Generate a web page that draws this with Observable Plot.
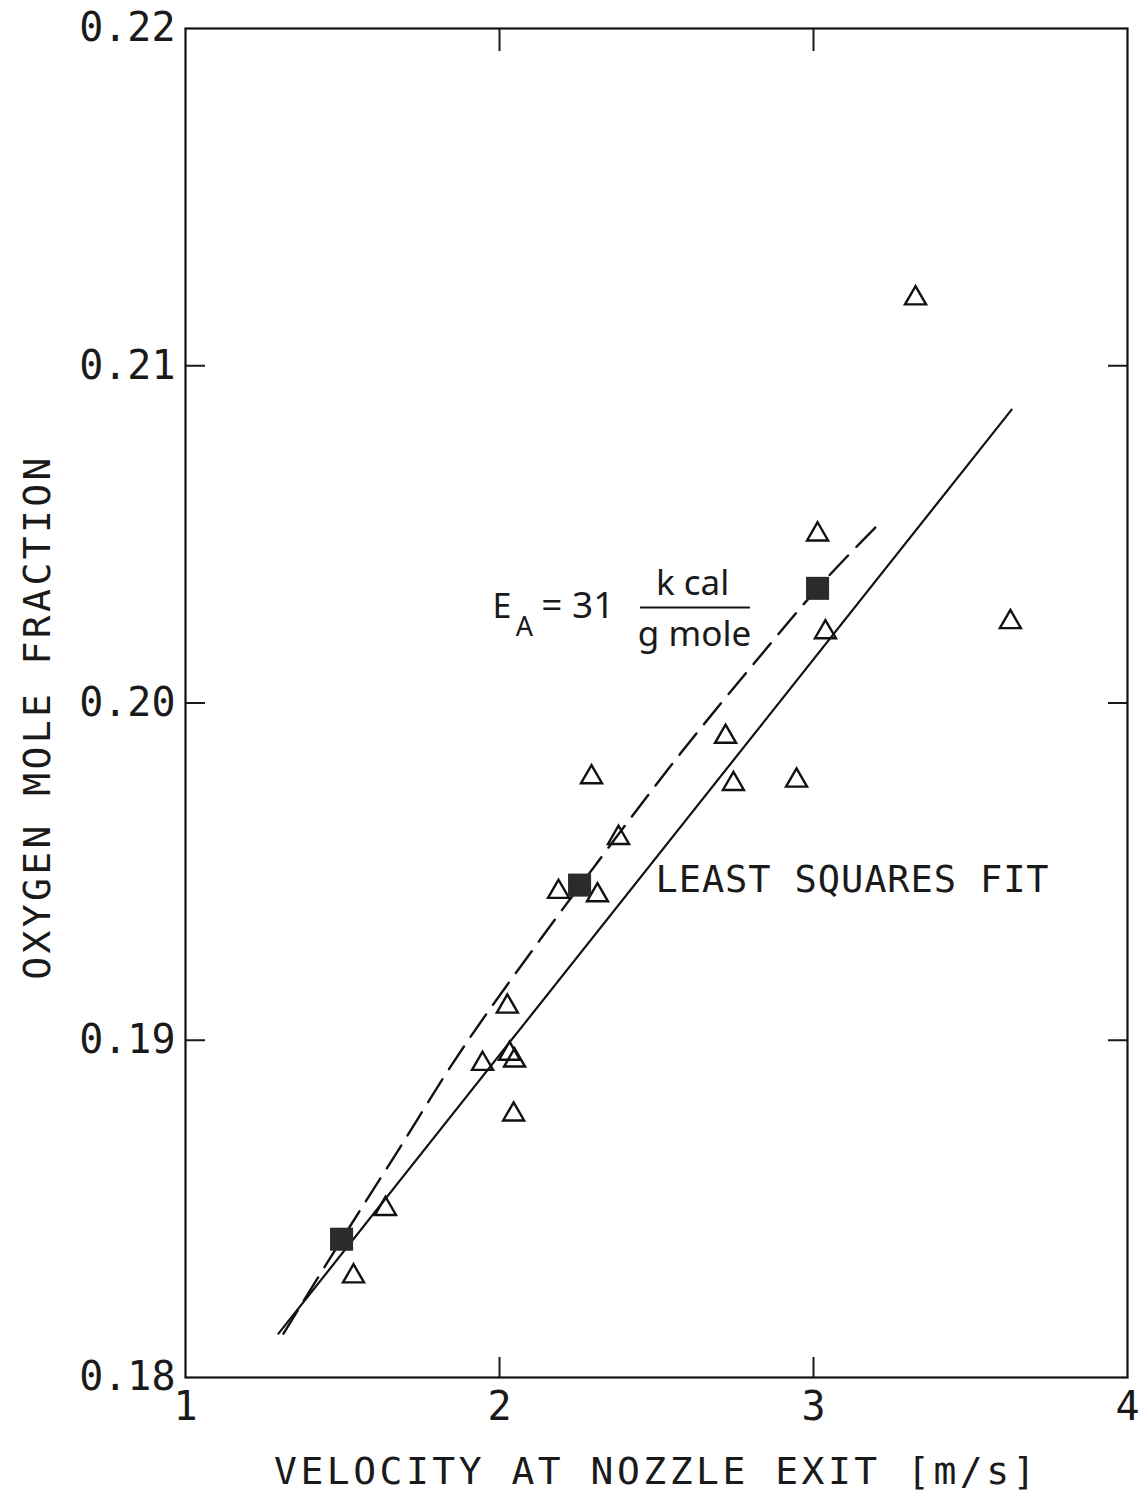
<!DOCTYPE html>
<html>
<head>
<meta charset="utf-8">
<script src="https://cdn.jsdelivr.net/npm/d3@7"></script>
<script src="https://cdn.jsdelivr.net/npm/@observablehq/plot@0.6"></script>
<style>
  html, body { margin: 0; padding: 0; background: #fff; }
  #chart svg { display: block; }
</style>
</head>
<body>
<div id="chart"></div>
<script>
// ---- data ----
const xTickValues = [1, 2, 3, 4];
const yTickValues = [0.18, 0.19, 0.20, 0.21, 0.22];
const xInnerTicks = [2, 3];
const yInnerTicks = [0.19, 0.20, 0.21];

const xLabel = "VELOCITY AT NOZZLE EXIT [m/s]";
const yLabel = "OXYGEN MOLE FRACTION";

// measured points (open triangles)
const triX = [3.325, 3.013, 3.038, 3.627, 2.720, 2.745, 2.946, 2.293, 2.379, 2.188, 2.312, 2.025, 1.946, 2.032, 2.048, 2.045, 1.637, 1.535];
const triY = [0.2120, 0.2050, 0.2021, 0.2024, 0.1990, 0.1976, 0.1977, 0.1978, 0.1960, 0.1944, 0.1943, 0.1910, 0.1893, 0.1896, 0.1894, 0.1878, 0.1850, 0.1830];

// filled squares
const sqX = [1.497, 2.255, 3.013];
const sqY = [0.1841, 0.1946, 0.2034];

// least squares fit (solid)
const fitX = [1.296, 3.631];
const fitY = [0.1813, 0.2087];

// E_A = 31 kcal/g mole curve (dashed)
const eaX = [1.312, 1.525, 1.675, 1.850, 2.131, 2.258, 2.576, 2.831, 3.013, 3.207];
const eaY = [0.1813, 0.1845, 0.1867, 0.1893, 0.1930, 0.1946, 0.1985, 0.2014, 0.2034, 0.2053];

// annotations (anchor positions in data units)
const fitLabel = "LEAST SQUARES FIT";
const fitLabelAt = [2.497, 0.19474];
const eaMain = "E";
const eaMainAt = [1.978, 0.20251];
const eaSub = "A";
const eaSubAt = [2.052, 0.20200];
const eaValue = "= 31";
const eaValueAt = [2.133, 0.20251];
const eaNum = "k cal";
const eaNumAt = [2.615, 0.20319];
const eaDen = "g mole";
const eaDenAt = [2.621, 0.20170];
const eaBarX = [2.449, 2.799];
const eaBarY = 0.20283;

// ---- build tables ----
const tri = triX.map((x, i) => ({x, y: triY[i]}));
const sq = sqX.map((x, i) => ({x, y: sqY[i]}));
const fit = fitX.map((x, i) => ({x, y: fitY[i]}));
const ea = eaX.map((x, i) => ({x, y: eaY[i]}));

const plotFont = "DejaVu Sans Mono";
const annFont = "Noto Sans";

const chart = Plot.plot({
  width: 1139,
  height: 1493,
  marginLeft: 185,
  marginRight: 12,
  marginTop: 28,
  marginBottom: 116,
  style: {fontFamily: plotFont, fontSize: "40px", color: "#1a1a1a", background: "#fff"},
  x: {domain: [1, 4]},
  y: {domain: [0.18, 0.22]},
  marks: [
    // tick labels
    Plot.axisX({ticks: xTickValues, tickSize: 0, tickPadding: 14, tickFormat: d => String(d), label: null, fontSize: 40}),
    Plot.axisY({ticks: yTickValues, tickSize: 0, tickPadding: 10, tickFormat: d3.format(".2f"), label: null, fontSize: 40}),
    // inward ticks on all four sides
    Plot.axisX({ticks: xInnerTicks, tickSize: -20, tickFormat: () => "", label: null, strokeWidth: 2}),
    Plot.axisX({anchor: "top", ticks: xInnerTicks, tickSize: -22, tickFormat: () => "", label: null, strokeWidth: 2}),
    Plot.axisY({ticks: yInnerTicks, tickSize: -20, tickFormat: () => "", label: null, strokeWidth: 2}),
    Plot.axisY({anchor: "right", ticks: yInnerTicks, tickSize: -20, tickFormat: () => "", label: null, strokeWidth: 2}),
    Plot.frame({stroke: "#111", strokeWidth: 2.2}),
    // axis titles
    Plot.text([xLabel], {frameAnchor: "bottom", dy: 94, text: d => d, textAnchor: "middle", fontSize: 38, lineAnchor: "middle", fill: "#1a1a1a"}),
    Plot.text([yLabel], {frameAnchor: "left", dx: -148, dy: 14, rotate: -90, text: d => d, textAnchor: "middle", fontSize: 38, lineAnchor: "middle", fill: "#1a1a1a"}),
    // lines
    Plot.line(fit, {x: "x", y: "y", stroke: "#111", strokeWidth: 2.2}),
    Plot.line(ea, {x: "x", y: "y", stroke: "#111", strokeWidth: 2.4, strokeDasharray: "27,12", curve: "monotone-x"}),
    // data
    Plot.dot(tri, {x: "x", y: "y", symbol: "triangle", r: 7.8, stroke: "#111", strokeWidth: 2.4, fill: "none"}),
    Plot.dot(sq, {x: "x", y: "y", symbol: "square", r: 13, fill: "#2b2b2b", stroke: "none"}),
    // annotations
    Plot.text([fitLabel], {x: () => fitLabelAt[0], y: () => fitLabelAt[1], text: d => d, textAnchor: "start", lineAnchor: "middle", fontSize: 37, fill: "#1a1a1a"}),
    Plot.text([eaMain], {x: () => eaMainAt[0], y: () => eaMainAt[1], text: d => d, textAnchor: "start", lineAnchor: "bottom", fontSize: 34, fontFamily: annFont, fill: "#1a1a1a"}),
    Plot.text([eaSub], {x: () => eaSubAt[0], y: () => eaSubAt[1], text: d => d, textAnchor: "start", lineAnchor: "bottom", fontSize: 27, fontFamily: annFont, fill: "#1a1a1a"}),
    Plot.text([eaValue], {x: () => eaValueAt[0], y: () => eaValueAt[1], text: d => d, textAnchor: "start", lineAnchor: "bottom", fontSize: 37, fontFamily: annFont, fill: "#1a1a1a"}),
    Plot.text([eaNum], {x: () => eaNumAt[0], y: () => eaNumAt[1], text: d => d, textAnchor: "middle", lineAnchor: "bottom", fontSize: 35, fontFamily: annFont, fill: "#1a1a1a"}),
    Plot.text([eaDen], {x: () => eaDenAt[0], y: () => eaDenAt[1], text: d => d, textAnchor: "middle", lineAnchor: "bottom", fontSize: 35, fontFamily: annFont, fill: "#1a1a1a"}),
    Plot.ruleY([eaBarY], {x1: eaBarX[0], x2: eaBarX[1], stroke: "#111", strokeWidth: 2})
  ]
});

// plotter-style wide lettering for the axis titles and fit label
const spacing = new Map([[xLabel, "3.5px"], [yLabel, "3.4px"], [fitLabel, "0.9px"]]);
chart.querySelectorAll("text").forEach(t => {
  const s = spacing.get(t.textContent);
  if (s) t.style.letterSpacing = s;
});

document.getElementById("chart").appendChild(chart);
</script>
</body>
</html>
